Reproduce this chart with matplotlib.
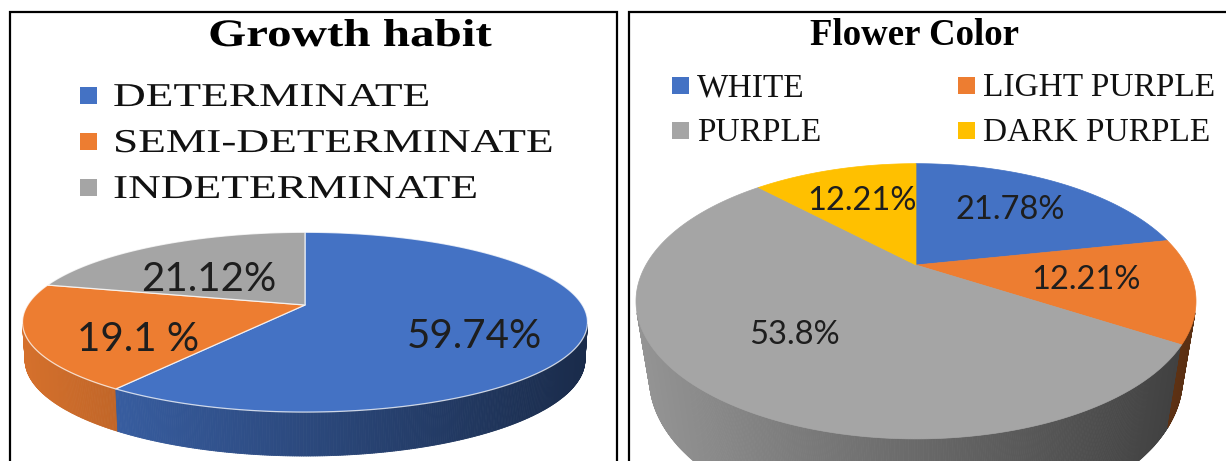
import numpy as np
import matplotlib.pyplot as plt
from matplotlib.patches import Polygon, Rectangle
from matplotlib.collections import PolyCollection
from matplotlib.patheffects import AbstractPathEffect
from matplotlib.transforms import Affine2D
from matplotlib.colors import to_rgb

# ---- data ----
habit_labels = ["DETERMINATE", "SEMI-DETERMINATE", "INDETERMINATE"]
habit_values = [59.74, 19.1, 21.12]
habit_fmt = ["{:.2f}%", "{:.1f} %", "{:.2f}%"]
habit_colors = ["#4472C4", "#ED7D31", "#A5A5A5"]

flower_labels = ["WHITE", "LIGHT PURPLE", "PURPLE", "DARK PURPLE"]
flower_values = [21.78, 12.21, 53.8, 12.21]
flower_fmt = ["{:.2f}%", "{:.2f}%", "{:.1f}%", "{:.2f}%"]
flower_colors = ["#4472C4", "#ED7D31", "#A5A5A5", "#FFC000"]

SERIF = "Liberation Serif"
SANS = "Lato"


class WideText(AbstractPathEffect):
    """Stretch glyphs sideways about the text anchor."""

    def __init__(self, artist, sx):
        super().__init__()
        self.artist = artist
        self.sx = sx

    def draw_path(self, renderer, gc, tpath, affine, rgbFace=None):
        x0 = self.artist.get_transform().transform(self.artist.get_position())[0]
        stretch = Affine2D().translate(-x0, 0).scale(self.sx, 1).translate(x0, 0)
        renderer.draw_path(gc, tpath, affine + stretch, rgbFace)


def wide_text(ax, x, y, s, sx=1.0, **kw):
    t = ax.text(x, y, s, **kw)
    if sx != 1.0:
        t.set_path_effects([WideText(t, sx)])
    return t


def pie3d(ax, values, colors, cx, cy, half_w, elev, dist, thick,
          fmts, label_r, label_z, label_size, rim=None):
    elev = np.radians(elev)
    s, c = np.sin(elev), np.cos(elev)

    def proj(th, r=1.0, z=0.0):
        x, y = r * np.cos(th), r * np.sin(th)
        k = dist / (dist + y * c - z * s)
        return x * k, (y * s + z * c) * k

    px, _ = proj(np.linspace(0, 2 * np.pi, 1441))
    scale = half_w / np.abs(px).max()

    def to_px(th, r=1.0, z=0.0):
        x, y = proj(np.asarray(th, dtype=float), r, z)
        return np.column_stack([cx + scale * np.atleast_1d(x),
                                cy - scale * np.atleast_1d(y)])

    vals = np.asarray(values, dtype=float)
    cum = np.concatenate([[0], np.cumsum(vals / vals.sum())])
    edges = np.pi / 2 - 2 * np.pi * cum   # clockwise from 12 o'clock

    # front wall, only the part facing the viewer
    lim = np.arcsin(min(1.0, 1.0 / (dist * c)))
    lo, hi = np.pi + lim, 2 * np.pi - lim
    cuts = [(e % (2 * np.pi)) for e in edges]
    cuts = [e for e in cuts if lo < e < hi]
    ths = np.unique(np.concatenate([np.linspace(lo, hi, 400), cuts]))
    quads, cols = [], []
    x_left = cx - half_w
    for a, b in zip(ths[:-1], ths[1:]):
        mid = 0.5 * (a + b)
        frac = ((np.pi / 2 - mid) % (2 * np.pi)) / (2 * np.pi)
        i = min(np.searchsorted(cum, frac) - 1, len(vals) - 1)
        top = to_px([a, b])
        bot = to_px([b, a], z=-thick)
        quads.append(np.vstack([top, bot]))
        xm = top[:, 0].mean()
        f = 0.9 - 0.52 * (xm - x_left) / (2 * half_w)
        cols.append(tuple(np.clip(np.array(to_rgb(colors[i])) * f, 0, 1)))
    ax.add_collection(PolyCollection(quads, facecolors=cols, edgecolors=cols,
                                     linewidths=0.6))

    # top faces
    for i, col in enumerate(colors):
        n = max(3, int(abs(edges[i] - edges[i + 1]) / np.radians(0.5)))
        arc = to_px(np.linspace(edges[i], edges[i + 1], n))
        pts = np.vstack([[cx, cy], arc])
        ec = rim if rim is not None else col
        ax.add_patch(Polygon(pts, closed=True, fc=col, ec=ec,
                             lw=0.9 if rim is not None else 0.5,
                             joinstyle="round"))

    # value labels
    for i, v in enumerate(vals):
        mid = 0.5 * (edges[i] + edges[i + 1])
        lx, ly = to_px(mid, label_r, label_z)[0]
        ax.text(lx, ly, fmts[i].format(v), ha="center", va="center",
                fontsize=label_size, family=SANS, color="#1e1e1e")


fig = plt.figure(figsize=(12.26, 4.61), dpi=100)
ax = fig.add_axes([0, 0, 1, 1])
ax.set_xlim(0, 1226)
ax.set_ylim(461, 0)
ax.axis("off")

# panel frames (bottom and right edges run off the page)
ax.plot([9.5, 9.5, 617, 617], [475, 12, 12, 475], color="black", lw=1.6,
        solid_joinstyle="miter", clip_on=False)
ax.plot([629, 629, 1235], [475, 12, 12], color="black", lw=1.6,
        solid_joinstyle="miter", clip_on=False)

# ---- Growth habit ----
wide_text(ax, 350, 46, "Growth habit", sx=1.26, ha="center", va="baseline",
          fontsize=28, family=SERIF, fontweight="bold", color="black")
for lab, col, yb in zip(habit_labels, habit_colors, [106, 152, 198]):
    ax.add_patch(Rectangle((80, yb - 19), 17, 17, fc=col, ec="none"))
    wide_text(ax, 113, yb, lab, sx=1.36, ha="left", va="baseline",
              fontsize=24, family=SERIF, color="#111111")

pie3d(ax, habit_values, habit_colors, cx=305, cy=305, half_w=282.5,
      elev=18.2, dist=4.97, thick=0.14, fmts=habit_fmt, label_r=0.62,
      label_z=-0.055, label_size=29, rim=(1, 1, 1, 0.75))

# ---- Flower Color ----
ax.text(915, 45, "Flower Color", ha="center", va="baseline", fontsize=26.5,
        family=SERIF, fontweight="bold", color="black")
leg_pos = [(672, 96), (958, 96), (672, 141), (958, 141)]
for lab, col, (lx, yb) in zip(flower_labels, flower_colors, leg_pos):
    ax.add_patch(Rectangle((lx, yb - 19), 17, 17, fc=col, ec="none"))
    ax.text(lx + 25, yb, lab, ha="left", va="baseline", fontsize=24,
            family=SERIF, color="#111111")

pie3d(ax, flower_values, flower_colors, cx=916, cy=265, half_w=280,
      elev=28.3, dist=3.34, thick=0.33, fmts=flower_fmt, label_r=0.62,
      label_z=0.0, label_size=23.5)

fig.savefig("out.png", dpi=100)
